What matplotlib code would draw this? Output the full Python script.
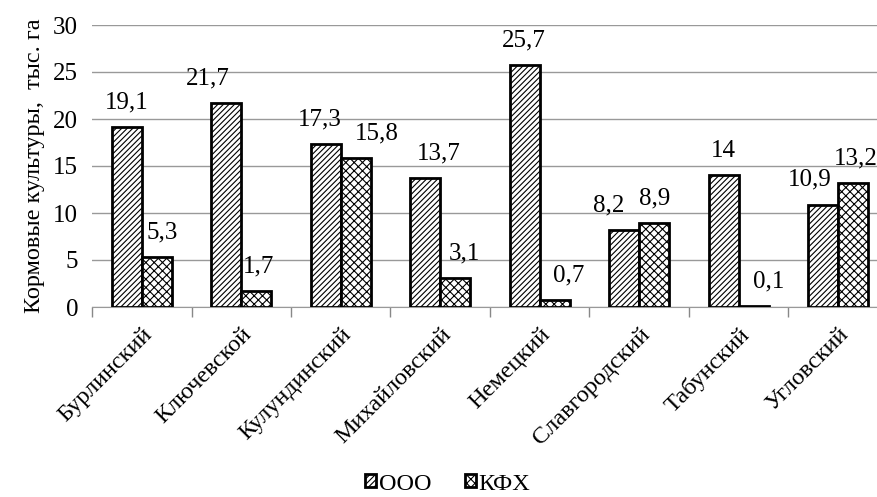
import numpy as np
import matplotlib.pyplot as plt
import matplotlib as mpl

plt.rcParams['font.family'] = ['Liberation Serif', 'DejaVu Serif']
mpl.rcParams['hatch.linewidth'] = 0.8

# Площади кормовых культур по районам, тыс. га
районы = ['Бурлинский', 'Ключевской', 'Кулундинский', 'Михайловский',
          'Немецкий', 'Славгородский', 'Табунский', 'Угловский']
ооо = [19.1, 21.7, 17.3, 13.7, 25.7, 8.2, 14, 10.9]
кфх = [5.3, 1.7, 15.8, 3.1, 0.7, 8.9, 0.1, 13.2]

# горизонтальный сдвиг подписей (в пунктах), чтобы не налезали друг на друга
сдвиг_ооо = [0, -13, -4, 10, -1, -11, 0, -10]
сдвиг_кфх = [4, 2, 15, 7, 10, 0, 11, 2]

def fmt(v):
    s = ('%g' % v).replace('.', ',')
    return s

fig = plt.figure(figsize=(8.78, 4.97), dpi=100)
ax = fig.add_axes([92 / 878, 1 - 307 / 497, 796 / 878, 282 / 497])

x = np.arange(len(районы))
w = 0.3
b1 = ax.bar(x - w / 2, ооо, w, color='white', edgecolor='black',
            linewidth=2, hatch='//////', label='ООО', zorder=3)
b2 = ax.bar(x + w / 2, кфх, w, color='white', edgecolor='black',
            linewidth=2, hatch='xxxx', label='КФХ', zorder=3)

for bars, vals, dx in ((b1, ооо, сдвиг_ооо), (b2, кфх, сдвиг_кфх)):
    for r, v, d in zip(bars, vals, dx):
        ax.annotate(fmt(v), (r.get_x() + r.get_width() / 2, v),
                    xytext=(d, 10), textcoords='offset points',
                    ha='center', va='bottom', fontsize=18)

ax.set_xlim(-0.5, len(районы) - 0.5)
ax.set_ylim(0, 30)
ax.set_yticks(range(0, 31, 5))
ax.tick_params(axis='y', length=0, labelsize=18, pad=10)
ax.set_xticks(x)
ax.set_xticklabels(районы, rotation=45, ha='right', rotation_mode='anchor',
                   fontsize=17.5)
ax.tick_params(axis='x', length=0, pad=12)
ax.set_xticks(np.arange(-0.5, len(районы)), minor=True)
ax.tick_params(axis='x', which='minor', length=7, color='#888888', width=1)

ax.grid(axis='y', color='#999999', linewidth=1, zorder=0)
for s in ('top', 'right', 'left'):
    ax.spines[s].set_visible(False)
ax.spines['bottom'].set_color('#999999')

ax.set_ylabel('Кормовые культуры,  тыс. га', fontsize=17.5, labelpad=6)

fig.legend(handles=[b1, b2], loc='center', bbox_to_anchor=(448 / 878, 1 - 484 / 497),
           ncol=2, frameon=False, fontsize=17.5, handlelength=0.45,
           handleheight=0.45, handletextpad=0.1, columnspacing=1.4)

fig.savefig('out.png', dpi=100)
